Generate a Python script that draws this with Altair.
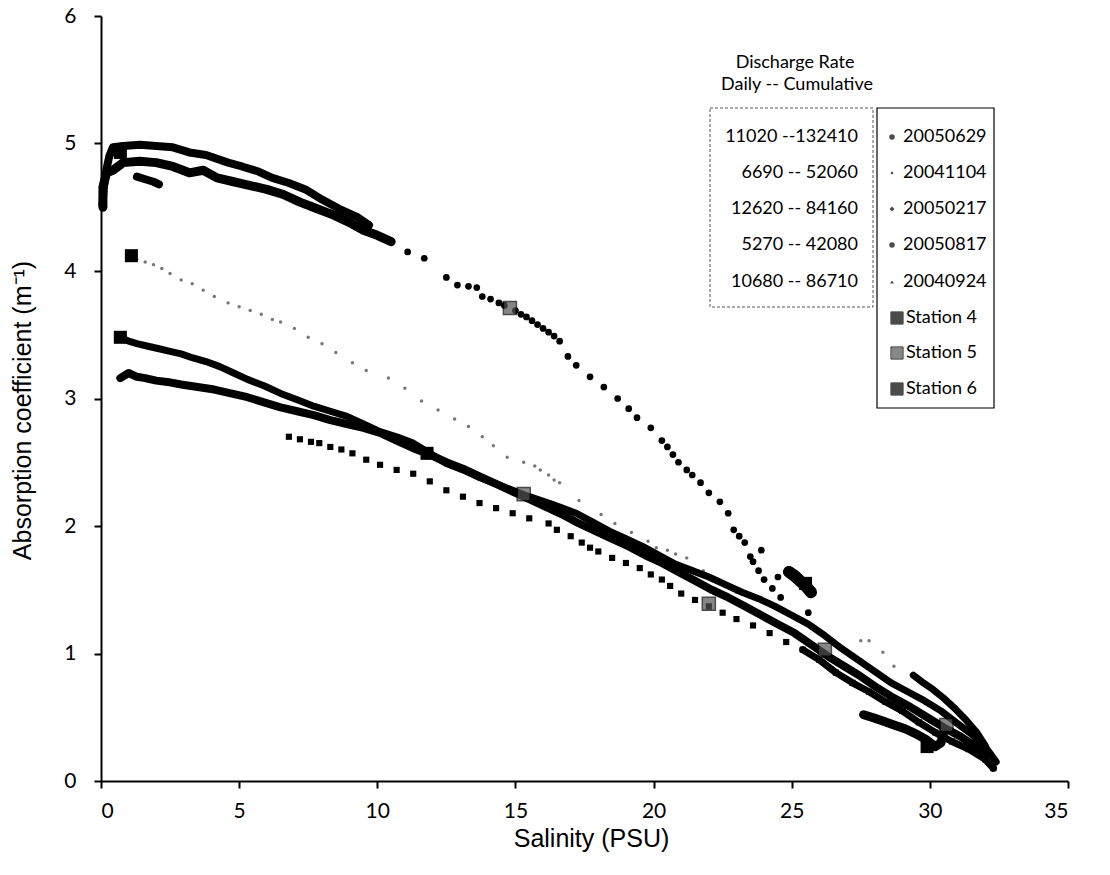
import altair as alt
import pandas as pd

# ---------------- data ----------------
# 20050629 : upper long curve (dense part near fresh water, then sparse dots)
s1_dense_sal = [0.05, 0.1, 0.2, 0.3, 0.43, 0.8, 1.41, 2.0, 2.6, 3.2, 3.8, 4.6, 5.1, 5.7, 6.2, 6.8, 7.4, 8.0, 8.6, 9.3, 9.7]
s1_dense_abs = [4.52, 4.65, 4.8, 4.9, 4.97, 4.98, 4.99, 4.98, 4.97, 4.93, 4.91, 4.85, 4.82, 4.78, 4.73, 4.69, 4.64, 4.56, 4.49, 4.42, 4.36]
s1_dots_sal = [11.1, 11.7, 12.5, 12.9, 13.3, 13.6, 13.8, 14.1, 14.4, 14.6, 15.0, 15.2, 15.4, 15.6, 15.8, 16.0, 16.2, 16.4, 16.6, 16.9, 17.2,
               17.7, 18.2, 18.7, 19.1, 19.4, 19.9, 20.3, 20.5, 20.7, 20.9, 21.2, 21.4, 21.7, 22.0, 22.4, 22.7, 22.9, 23.1, 23.3,
               23.5, 23.6, 23.8, 23.9, 24.0, 24.3, 24.5, 24.6, 25.6]
s1_dots_abs = [4.15, 4.1, 3.95, 3.89, 3.88, 3.87, 3.8, 3.78, 3.75, 3.73, 3.69, 3.66, 3.64, 3.61, 3.58, 3.55, 3.52, 3.49, 3.45, 3.33, 3.26,
               3.17, 3.09, 3.0, 2.92, 2.85, 2.77, 2.67, 2.62, 2.56, 2.5, 2.44, 2.4, 2.34, 2.26, 2.19, 2.1, 1.97, 1.92, 1.87,
               1.76, 1.72, 1.65, 1.81, 1.58, 1.51, 1.6, 1.44, 1.32]
s1_blob_sal = [24.9, 25.1, 25.3, 25.5, 25.7]
s1_blob_abs = [1.64, 1.61, 1.57, 1.53, 1.48]

# 20050817 : second curve near 4.8, ends near salinity 10.5
s2_sal = [0.07, 0.07, 0.2, 0.43, 0.8, 1.4, 2.0, 2.6, 3.2, 3.7, 4.2, 4.8, 5.4, 6.0, 6.6, 7.2, 7.8, 8.4, 9.0, 9.5, 10.0, 10.5]
s2_abs = [4.5, 4.66, 4.77, 4.79, 4.85, 4.86, 4.85, 4.82, 4.77, 4.79, 4.73, 4.7, 4.67, 4.64, 4.6, 4.54, 4.49, 4.44, 4.38, 4.32, 4.28, 4.23]
s2_piece_sal = [1.3, 1.6, 1.9, 2.1]
s2_piece_abs = [4.74, 4.72, 4.7, 4.68]

# 20041104 : light, tiny scattered dots
s3_sal = [1.3, 1.6, 1.9, 2.2, 2.5, 2.9, 3.3, 3.7, 4.1, 4.6, 5.0, 5.4, 5.8, 6.2, 6.5, 7.0, 7.5, 8.0, 8.5, 9.1, 9.6, 10.4,
          11.0, 11.6, 12.2, 12.8, 13.3, 13.8, 14.2, 14.7, 15.3, 15.7, 15.9, 16.2, 16.4, 16.6, 17.3, 18.1, 18.6, 19.2, 19.8,
          20.1, 20.5, 20.8, 21.2, 21.8, 22.4, 23.0, 27.5, 27.8, 28.3, 28.7]
s3_abs = [4.09, 4.07, 4.05, 4.02, 3.98, 3.93, 3.9, 3.85, 3.8, 3.75, 3.72, 3.69, 3.66, 3.62, 3.6, 3.55, 3.48, 3.43, 3.36, 3.28, 3.22, 3.16,
          3.08, 2.98, 2.91, 2.84, 2.78, 2.7, 2.63, 2.54, 2.5, 2.47, 2.44, 2.4, 2.36, 2.34, 2.2, 2.09, 2.02, 1.95, 1.88,
          1.83, 1.81, 1.78, 1.75, 1.65, 1.55, 1.48, 1.1, 1.1, 1.01, 0.9]
s3_tip_sal = [29.4, 29.7, 30.1, 30.5, 30.9, 31.3, 31.7, 32.0]
s3_tip_abs = [0.83, 0.78, 0.72, 0.65, 0.57, 0.48, 0.38, 0.28]

# 20050217 : curve starting at 3.48
s4_sal = [0.7, 1.0, 1.3, 1.7, 2.1, 2.5, 2.9, 3.3, 3.8, 4.3, 4.8, 5.3, 5.9, 6.5, 7.1, 7.7, 8.3, 8.9, 9.5, 10.1, 10.7, 11.3, 11.9,
          12.5, 13.1, 13.7, 14.3, 14.9, 15.5, 16.2, 16.7, 17.2, 17.8, 18.4, 19.0, 19.6, 20.2, 20.8, 21.4, 22.0, 22.6, 23.2,
          23.8, 24.4, 25.0, 25.6, 26.2, 26.8, 27.4, 28.0, 28.6, 29.2, 29.8, 30.4, 31.0, 31.5, 32.0, 32.4]
s4_abs = [3.48, 3.45, 3.43, 3.41, 3.39, 3.37, 3.35, 3.32, 3.29, 3.25, 3.2, 3.15, 3.1, 3.04, 2.99, 2.94, 2.9, 2.86, 2.8, 2.74, 2.7, 2.65, 2.57,
          2.49, 2.44, 2.38, 2.33, 2.28, 2.23, 2.18, 2.14, 2.1, 2.03, 1.96, 1.9, 1.84, 1.77, 1.7, 1.65, 1.6, 1.54, 1.48,
          1.43, 1.37, 1.3, 1.23, 1.14, 1.04, 0.95, 0.86, 0.77, 0.7, 0.63, 0.55, 0.45, 0.37, 0.27, 0.15]

# 20040924 : curve starting at 3.17
s5_sal = [0.7, 1.0, 1.3, 1.6, 2.0, 2.4, 2.9, 3.5, 4.1, 4.7, 5.3, 5.9, 6.5, 7.1, 7.7, 8.3, 8.9, 9.5, 10.1, 10.7, 11.3, 11.9,
          12.5, 13.1, 13.7, 14.3, 14.9, 15.5, 16.1, 16.7, 17.3, 17.9, 18.5, 19.1, 19.7, 20.3, 20.9, 21.5, 22.1, 22.7, 23.3,
          23.9, 24.5, 25.1, 25.7, 26.3, 26.9, 27.5, 28.1, 28.7, 29.3, 29.9, 30.5, 31.1, 31.6, 32.1]
s5_abs = [3.16, 3.2, 3.17, 3.16, 3.14, 3.13, 3.11, 3.09, 3.07, 3.04, 3.01, 2.97, 2.93, 2.9, 2.87, 2.83, 2.8, 2.77, 2.73, 2.67, 2.61, 2.56,
          2.5, 2.45, 2.39, 2.33, 2.27, 2.21, 2.15, 2.09, 2.02, 1.96, 1.9, 1.84, 1.77, 1.71, 1.64, 1.57, 1.5, 1.44, 1.37,
          1.3, 1.23, 1.16, 1.07, 0.98, 0.9, 0.82, 0.73, 0.65, 0.58, 0.5, 0.42, 0.35, 0.28, 0.2]

# 20040924 : lower strand starting at salinity 6.8
s6_sal = [6.8, 7.2, 7.6, 7.9, 8.3, 8.7, 9.1, 9.6, 10.1, 10.7, 11.3, 11.9, 12.5, 13.1, 13.7, 14.3, 14.9, 15.5, 16.2, 16.5,
          17.0, 17.4, 17.7, 18.0, 18.5, 19.0, 19.5, 19.9, 20.3, 20.6, 21.0, 21.5, 22.0, 22.5, 23.0, 23.6, 24.2, 24.8, 25.4,
          26.0, 26.6, 27.2, 27.8, 28.4, 29.0, 29.6, 30.2, 30.8, 31.4, 32.0, 32.3]
s6_abs = [2.7, 2.68, 2.66, 2.65, 2.62, 2.6, 2.57, 2.52, 2.48, 2.44, 2.41, 2.35, 2.28, 2.23, 2.18, 2.14, 2.1, 2.06, 2.02, 1.97,
          1.92, 1.87, 1.83, 1.8, 1.75, 1.71, 1.67, 1.62, 1.58, 1.53, 1.47, 1.42, 1.37, 1.32, 1.27, 1.22, 1.16, 1.09, 1.03,
          0.95, 0.85, 0.77, 0.7, 0.62, 0.55, 0.46, 0.38, 0.31, 0.25, 0.17, 0.1]
s6_loop_sal = [27.6, 27.9, 28.3, 28.7, 29.1, 29.5, 29.9, 30.2, 30.4, 30.5]
s6_loop_abs = [0.52, 0.5, 0.47, 0.44, 0.41, 0.37, 0.32, 0.27, 0.3, 0.38]

# stations
st4_sal = [0.7, 1.1, 0.7]
st4_abs = [4.93, 4.12, 3.48]
st5_sal = [14.8, 15.3, 22.0, 26.2, 30.6]
st5_abs = [3.71, 2.25, 1.39, 1.03, 0.44]
st6_sal = [11.8, 25.5, 29.9]
st6_abs = [2.57, 1.55, 0.27]

# legend texts
legend_rates = ["11020 --132410", "6690 --  52060", "12620 --  84160", "5270 --  42080", "10680 --  86710"]
legend_dates = ["20050629", "20041104", "20050217", "20050817", "20040924"]
legend_stations = ["Station 4", "Station 5", "Station 6"]


def frame(sal, ab):
    return pd.DataFrame({"sal": sal, "ab": ab, "i": list(range(len(sal)))})


X = alt.X("sal:Q", scale=alt.Scale(domain=[0, 35], nice=False, zero=False),
          axis=alt.Axis(values=list(range(0, 36, 5)), title="Salinity (PSU)",
                        labelPadding=12, titleX=490, titleY=57, titleBaseline="middle"))
Y = alt.Y("ab:Q", scale=alt.Scale(domain=[0, 6], nice=False, zero=False),
          axis=alt.Axis(values=list(range(0, 7)), title="Absorption coefficient (m⁻¹)",
                        labelPadding=18, titleX=-79, titleY=394, titleAngle=270,
                        titleBaseline="middle", titleAlign="center"))


def line(sal, ab, w=8, color="black"):
    return alt.Chart(frame(sal, ab)).mark_line(color=color, strokeWidth=w, strokeCap="round",
                                               strokeJoin="round").encode(x=X, y=Y, order="i:Q")


def pts(sal, ab, size=40, shape="circle", color="black", opacity=1.0):
    return alt.Chart(frame(sal, ab)).mark_point(filled=True, shape=shape, size=size, color=color,
                                                opacity=opacity).encode(x=X, y=Y)


layers = [
    line(s1_dense_sal, s1_dense_abs, 8),
    pts(s1_dots_sal, s1_dots_abs, 45),
    line(s1_blob_sal, s1_blob_abs, 12),
    line(s2_sal, s2_abs, 9),
    line(s2_piece_sal, s2_piece_abs, 8),
    pts(s3_sal, s3_abs, 12, color="#777777"),
    line(s3_tip_sal, s3_tip_abs, 7),
    line(s4_sal, s4_abs, 7),
    pts(s4_sal, s4_abs, 35, shape="diamond"),
    line(s5_sal, s5_abs, 8),
    pts(s6_sal, s6_abs, 38, shape="square"),
    line(s6_sal[38:], s6_abs[38:], 7),
    line(s6_loop_sal, s6_loop_abs, 9),
    pts(st4_sal, st4_abs, 170, shape="square"),
    alt.Chart(frame(st5_sal, st5_abs)).mark_point(filled=True, shape="square", size=170, color="#555555",
                                                  stroke="black", strokeWidth=1.5).encode(x=X, y=Y),
    pts(st6_sal, st6_abs, 170, shape="square"),
]

# ---------------- legend (drawn as annotation) ----------------
LF = "Lato"
layers.append(alt.Chart().mark_text(text="Discharge Rate", font=LF, fontSize=18, align="center",
                                    baseline="middle", color="black").encode(x=alt.value(694), y=alt.value(47)))
layers.append(alt.Chart().mark_text(text="Daily -- Cumulative", font=LF, fontSize=18, align="center",
                                    baseline="middle", color="black").encode(x=alt.value(696), y=alt.value(69)))
layers.append(alt.Chart().mark_rect(fillOpacity=0, stroke="#555555", strokeWidth=1, strokeDash=[3, 2]).encode(
    x=alt.value(609), x2=alt.value(772), y=alt.value(92), y2=alt.value(291)))
layers.append(alt.Chart().mark_rect(fillOpacity=0, stroke="black", strokeWidth=1.2).encode(
    x=alt.value(776), x2=alt.value(893), y=alt.value(92), y2=alt.value(392)))

row_y = [121, 157, 193, 229, 266, 302, 337, 373]
sym = [("circle", 30), ("circle", 6), ("diamond", 25), ("circle", 30), ("triangle-up", 14)]
for k in range(5):
    layers.append(alt.Chart().mark_text(text=legend_rates[k], font=LF, fontSize=18, align="right",
                                        baseline="middle", color="black").encode(x=alt.value(757), y=alt.value(row_y[k])))
    layers.append(alt.Chart().mark_point(filled=True, shape=sym[k][0], size=sym[k][1], color="black").encode(
        x=alt.value(791), y=alt.value(row_y[k])))
    layers.append(alt.Chart().mark_text(text=legend_dates[k], font=LF, fontSize=18, align="left",
                                        baseline="middle", color="black").encode(x=alt.value(802), y=alt.value(row_y[k])))
for k in range(3):
    fill = "#555555" if k == 1 else "black"
    layers.append(alt.Chart().mark_point(filled=True, shape="square", size=150, color=fill, stroke="black",
                                         strokeWidth=1).encode(x=alt.value(796), y=alt.value(row_y[5 + k])))
    layers.append(alt.Chart().mark_text(text=legend_stations[k], font=LF, fontSize=18, align="left",
                                        baseline="middle", color="black").encode(x=alt.value(805), y=alt.value(row_y[5 + k])))

chart = alt.layer(*layers).properties(
    width=967, height=765,
    autosize=alt.AutoSizeParams(type="none"),
    padding={"left": 101, "top": 16, "right": 42, "bottom": 94},
    background="white",
).configure_view(stroke=None).configure_axis(
    grid=False, domainColor="black", domainWidth=2, tickColor="black", tickWidth=2, tickSize=7,
    labelFont="Lato", labelFontSize=21, labelColor="black",
    titleFont="Liberation Sans", titleFontSize=25, titleFontWeight="normal", titleColor="black",
)

chart.save("out.html", embed_options={"renderer": "svg", "actions": False})
